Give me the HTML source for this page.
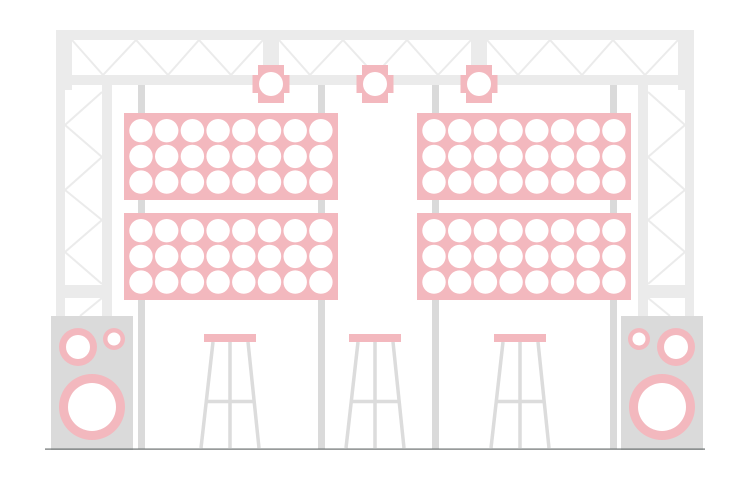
<!DOCTYPE html>
<html><head><meta charset="utf-8"><style>html,body{margin:0;padding:0;background:#fff;}svg{display:block}</style></head>
<body>
<svg width="750" height="500" viewBox="0 0 750 500" xmlns="http://www.w3.org/2000/svg">
<defs>
<g id="lt">
<path d="M-13,-19 H13 V-9 H18.5 V9 H13 V19 H-13 V9 H-18.5 V-9 H-13 Z" fill="#f3b8be"/>
<circle r="12" fill="#fff"/>
</g>
<g id="row">
<circle cx="141" r="11.7" fill="#fff"/><circle cx="166.7" r="11.7" fill="#fff"/><circle cx="192.4" r="11.7" fill="#fff"/><circle cx="218.1" r="11.7" fill="#fff"/><circle cx="243.8" r="11.7" fill="#fff"/><circle cx="269.5" r="11.7" fill="#fff"/><circle cx="295.2" r="11.7" fill="#fff"/><circle cx="320.9" r="11.7" fill="#fff"/>
</g>
<g id="panel">
<rect x="124" y="0" width="214" height="87" fill="#f3b8be"/>
<use href="#row" y="17.7"/><use href="#row" y="43.4"/><use href="#row" y="69.1"/>
</g>
<g id="stool">
<g stroke="#dcdcdc" stroke-width="3.5" fill="none">
<line x1="-17" y1="342" x2="-29" y2="448"/><line x1="18" y1="342" x2="29" y2="448"/><line x1="0" y1="342" x2="0" y2="448"/>
<line x1="-23" y1="401.5" x2="23" y2="401.5"/>
</g>
<rect x="-26" y="334" width="52" height="8" fill="#f3b8be"/>
</g>
</defs>

<!-- top truss -->
<g fill="#ebebeb">
<rect x="56" y="30" width="638" height="10"/>
<rect x="56" y="75" width="638" height="10"/>
<rect x="56" y="30" width="16" height="60"/>
<rect x="678" y="30" width="16" height="60"/>
<rect x="263" y="40" width="16" height="35"/>
<rect x="471" y="40" width="16" height="35"/>
<!-- side trusses -->
<rect x="56" y="85" width="9" height="232"/>
<rect x="102" y="85" width="10" height="364"/>
<rect x="65" y="285" width="37" height="13"/>
<rect x="685" y="85" width="9" height="232"/>
<rect x="638" y="85" width="10" height="364"/>
<rect x="648" y="285" width="37" height="13"/>
</g>
<g stroke="#ebebeb" stroke-width="2" fill="none">
<polyline points="72,40 103,75 136,40 168,75 199,40 231,75 263,40"/>
<polyline points="279,40 310,75 343,40 375,75 407,40 438,75 471,40"/>
<polyline points="487,40 518,75 550,40 582,75 613,40 645,75 678,40"/>
<polyline points="102,92 65,125 102,157 65,190 102,220 65,252 102,284"/>
<polyline points="648,92 685,125 648,157 685,190 648,220 685,252 648,284"/>
<polyline points="102,298 80,316"/>
<polyline points="648,298 670,316"/>
</g>

<!-- poles -->
<g fill="#dadada">
<rect x="138" y="85" width="7" height="364"/>
<rect x="318" y="85" width="7" height="364"/>
<rect x="432" y="85" width="7" height="364"/>
<rect x="610" y="85" width="7" height="364"/>
</g>

<!-- lights -->
<use href="#lt" x="271" y="84"/>
<use href="#lt" x="375" y="84"/>
<use href="#lt" x="479" y="84"/>

<!-- panels -->
<use href="#panel" y="113"/>
<use href="#panel" y="213"/>
<use href="#panel" x="293" y="113"/>
<use href="#panel" x="293" y="213"/>

<!-- speakers -->
<rect x="51" y="316" width="82" height="134" fill="#dadada"/>
<circle cx="78" cy="347" r="19" fill="#f3b8be"/><circle cx="78" cy="347" r="12" fill="#fff"/>
<circle cx="114" cy="339" r="11" fill="#f3b8be"/><circle cx="114" cy="339" r="6.5" fill="#fff"/>
<circle cx="92" cy="407" r="33" fill="#f3b8be"/><circle cx="92" cy="407" r="24" fill="#fff"/>
<rect x="621" y="316" width="82" height="134" fill="#dadada"/>
<circle cx="676" cy="347" r="19" fill="#f3b8be"/><circle cx="676" cy="347" r="12" fill="#fff"/>
<circle cx="639" cy="339" r="11" fill="#f3b8be"/><circle cx="639" cy="339" r="6.5" fill="#fff"/>
<circle cx="662" cy="407" r="33" fill="#f3b8be"/><circle cx="662" cy="407" r="24" fill="#fff"/>

<!-- stools -->
<use href="#stool" x="230"/>
<use href="#stool" x="375"/>
<use href="#stool" x="520"/>

<!-- ground -->
<rect x="45" y="448.5" width="660" height="1.2" fill="#6b7070"/>
</svg>
</body></html>
